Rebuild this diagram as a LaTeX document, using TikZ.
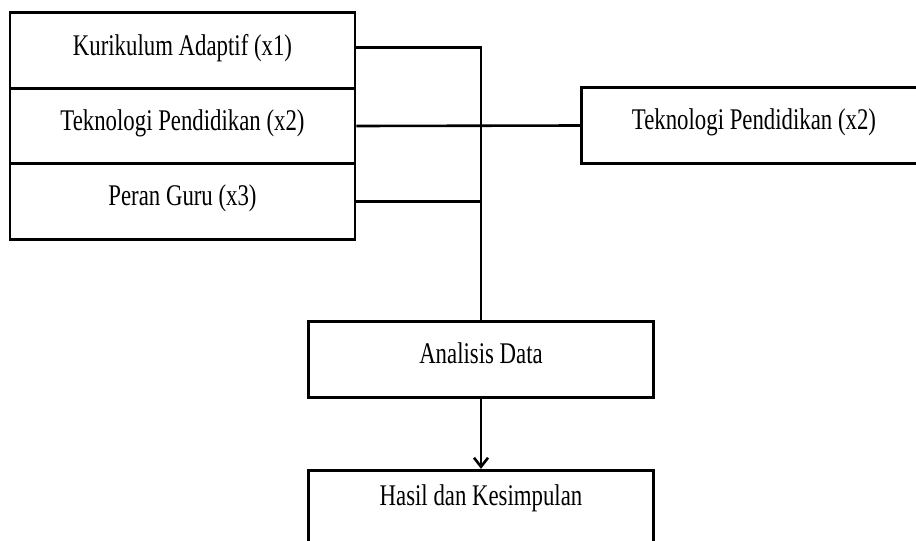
\documentclass[tikz,border=0pt]{standalone}
\usepackage{fontspec}
\setmainfont{Liberation Serif}
\usepackage{graphicx}
\usetikzlibrary{arrows.meta}
\newcommand{\boxtext}[1]{\scalebox{0.76}[1]{#1}}

\begin{document}
\begin{tikzpicture}[x=1pt,y=-1pt,>={Straight Barb[length=9pt,width=14pt]},
  box/.style={draw,line width=2.8pt,minimum width=345pt,minimum height=75.5pt,
    inner sep=0pt,text depth=12pt,font=\fontsize{30}{36}\selectfont},
  link/.style={line width=2.6pt}]
  \useasboundingbox (0,0) rectangle (916,541);
  \clip (0,0) rectangle (916,541);
  \node[box] (k1) at (182.5,50.5) {\boxtext{Kurikulum Adaptif (x1)}};
  \node[box] (k2) at (182.5,126) {\boxtext{Teknologi Pendidikan (x2)}};
  \node[box] (k3) at (182.5,201.5) {\boxtext{Peran Guru (x3)}};
  \node[box] (tek) at (754,125.5) {\boxtext{Teknologi Pendidikan (x2)}};
  \node[box] (ana) at (481,359.5) {\boxtext{Analisis Data}};
  \node[box,text depth=26pt] (has) at (481,508) {\boxtext{Hasil dan Kesimpulan}};
  \draw[link] ([yshift=3pt]k1.east) -| (ana.north);
  \draw[link] (k2.east) -- (tek.west);
  \draw[link] (k3.east) -- (k3.east -| ana.north);
  \draw[link,->] (ana) -- (has);
\end{tikzpicture}
\end{document}
